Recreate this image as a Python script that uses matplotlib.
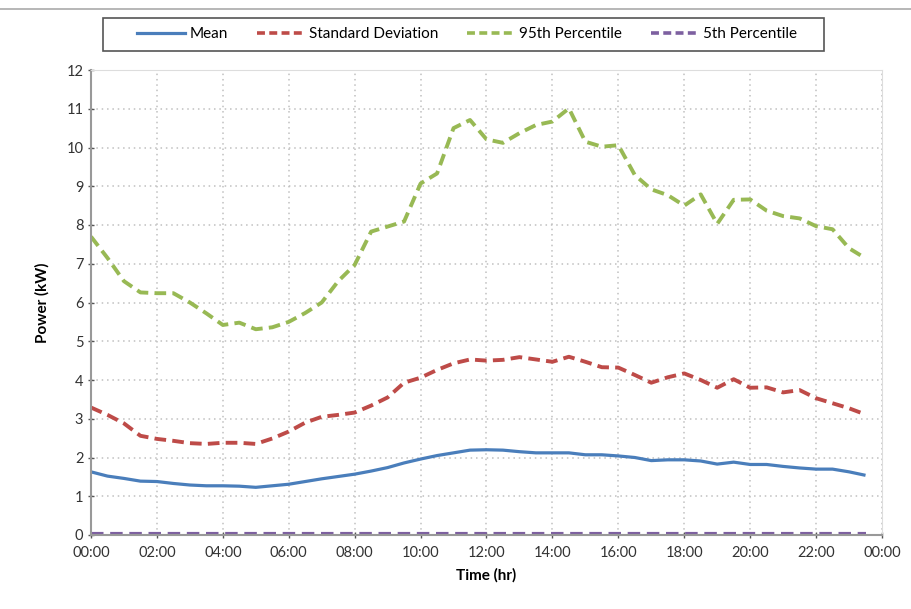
import matplotlib.pyplot as plt
import numpy as np
from matplotlib.lines import Line2D
from matplotlib.patches import Rectangle

# half-hourly profile, 00:00 .. 23:30
hours = np.arange(48) * 0.5

mean_kw = [1.63, 1.52, 1.46, 1.39, 1.38, 1.33, 1.29, 1.27, 1.27, 1.26, 1.23, 1.27,
           1.31, 1.38, 1.45, 1.51, 1.57, 1.65, 1.74, 1.86, 1.96, 2.05, 2.12, 2.19,
           2.20, 2.19, 2.15, 2.12, 2.12, 2.12, 2.07, 2.07, 2.04, 2.00, 1.92, 1.94,
           1.94, 1.91, 1.83, 1.88, 1.82, 1.82, 1.77, 1.73, 1.70, 1.70, 1.63, 1.54]

std_kw = [3.29, 3.10, 2.88, 2.56, 2.48, 2.43, 2.37, 2.35, 2.38, 2.38, 2.35, 2.49,
          2.67, 2.90, 3.05, 3.10, 3.16, 3.34, 3.55, 3.93, 4.06, 4.26, 4.43, 4.53,
          4.50, 4.52, 4.59, 4.53, 4.47, 4.60, 4.47, 4.33, 4.32, 4.13, 3.93, 4.07,
          4.17, 4.00, 3.80, 4.02, 3.80, 3.81, 3.68, 3.74, 3.53, 3.40, 3.27, 3.11]

p95_kw = [7.70, 7.15, 6.55, 6.26, 6.24, 6.24, 6.00, 5.72, 5.42, 5.48, 5.31, 5.36,
          5.50, 5.73, 6.00, 6.55, 6.97, 7.83, 7.96, 8.09, 9.07, 9.33, 10.50, 10.71,
          10.21, 10.12, 10.37, 10.58, 10.67, 11.01, 10.15, 10.02, 10.06, 9.29, 8.92, 8.77,
          8.50, 8.79, 8.03, 8.65, 8.66, 8.37, 8.23, 8.17, 7.97, 7.89, 7.40, 7.14]

p5_kw = [0.02] * 48

series_labels = ["Mean", "Standard Deviation", "95th Percentile", "5th Percentile"]
x_ticks = np.arange(0, 25, 2)
x_tick_labels = [f"{h % 24:02d}:00" for h in x_ticks]

plt.rcParams["font.family"] = ["Lato", "DejaVu Sans"]

W, H = 911, 609
fig = plt.figure(figsize=(W / 100, H / 100), dpi=100)
ax = fig.add_axes([91 / W, 1 - 535 / H, (882 - 91) / W, (535 - 70) / H])

ax.plot(hours, mean_kw, color="#4a7ebb", lw=2.3, solid_capstyle="butt")
ax.plot(hours, std_kw, color="#be4b48", lw=2.8, dashes=(3, 1.6))
ax.plot(hours, p95_kw, color="#98b954", lw=2.8, dashes=(3, 1.6))
ax.plot(hours, p5_kw, color="#7d60a0", lw=3.0, dashes=(3, 1.6))

ax.set_xlim(0, 24)
ax.set_ylim(0, 12)
ax.set_xticks(x_ticks)
ax.set_xticklabels(x_tick_labels)
ax.set_yticks(np.arange(0, 13, 1))
ax.tick_params(labelsize=10.5, colors="#555555", labelcolor="#333333", length=4,
               direction="inout", width=1)
ax.tick_params(axis="x", pad=6)
ax.grid(True, color="#c0c0c0", linestyle=(0, (1, 2.5)), linewidth=1.1)
ax.set_axisbelow(True)

for side in ("top", "right"):
    ax.spines[side].set_color("#dddddd")
ax.spines["left"].set_color("#999999")
ax.spines["bottom"].set_color("#999999")
ax.spines["left"].set_linewidth(1.5)
ax.spines["bottom"].set_linewidth(1.5)

ax.set_xlabel("Time (hr)", fontsize=11, fontweight="bold", labelpad=6)
ax.set_ylabel("Power (kW)", fontsize=11, fontweight="bold", labelpad=12)

# legend box drawn separately so its width matches the original
fig.add_artist(Rectangle((103 / W, 1 - 51 / H), (824 - 103) / W, 33 / H,
                         transform=fig.transFigure, facecolor="white",
                         edgecolor="#555555", lw=1.2))
handles = [
    Line2D([], [], color="#4a7ebb", lw=2.3),
    Line2D([], [], color="#be4b48", lw=2.6, dashes=(2.2, 1.2)),
    Line2D([], [], color="#98b954", lw=2.6, dashes=(2.2, 1.2)),
    Line2D([], [], color="#7d60a0", lw=2.6, dashes=(2.2, 1.2)),
]
leg = fig.legend(handles, series_labels, loc="center",
                 bbox_to_anchor=(467 / W, 1 - 34.5 / H), ncol=4, fontsize=11,
                 frameon=False, handlelength=3.1,
                 handletextpad=0.3, columnspacing=1.9)

# thin chart-area border line at the top
fig.add_artist(Line2D([0, 1], [1 - 9 / H, 1 - 9 / H], transform=fig.transFigure,
                      color="#aaaaaa", lw=1.2))

fig.savefig("out.png", dpi=100)
